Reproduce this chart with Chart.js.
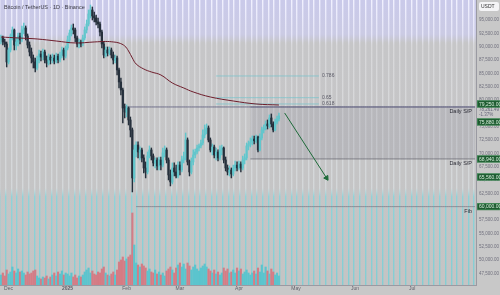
<!DOCTYPE html>
<html>
<head>
<meta charset="utf-8">
<script src="https://cdn.jsdelivr.net/npm/chart.js@4.4.1/dist/chart.umd.min.js"></script>
<style>
html, body { margin: 0; padding: 0; background: #c8c8c8; }
canvas { display: block; }
</style>
</head>
<body>
<canvas id="chart" width="500" height="295"></canvas>
<script>
// daily candles, Nov 27 2024 onwards
const opens = [91250,91630,90880,90500,87130,89380,92000,93130,90310,90880,92000,91250,93130,93500,92000,90310,89000,87880,87130,86000,
  87500,88630,88060,89000,87500,86940,88060,87500,87880,87310,88250,87500,88440,89380,88250,89750,91250,92560,93500,93130,
  91630,90500,90880,90500,91630,93130,94250,96130,96880,95750,95380,94630,94250,92750,90500,88440,89380,88810,89380,88440,
  87500,87880,85630,83380,81880,78500,77750,78500,76250,74380,65380,70630,71560,70250,70630,69130,67250,66500,69500,70630,
  69500,68190,68750,67630,68750,67810,70060,70630,68750,65940,64630,67250,66500,65750,67810,66880,68750,69130,72500,68380,
  66500,68380,69690,70250,71000,71380,71940,73440,74380,74750,72500,70630,71190,69690,70250,69130,70630,71000,68750,67250,
  66500,66880,66130,67250,67810,67250,68000,67250,68750,69130,71380,71750,72130,72690,72310,73060,70630,72880,74380,74750,
  75500,75130,76630,75500,74380,75880,76440];
const highs = [92190,92000,91440,90880,89750,92380,93690,93310,91630,92560,92560,93880,94440,93880,92380,90880,89750,88440,87880,88250,
  89380,89190,89560,89380,88250,88630,88440,88630,88440,88810,88630,89000,89940,89750,90130,92000,93130,94060,94250,93500,
  92000,91440,91250,92190,93690,95000,96880,97810,97440,96500,95940,95380,94630,93130,90880,89940,89940,89940,89750,89000,
  88440,88250,86000,84130,82250,79250,79060,78690,76810,74750,71560,72130,72130,71190,71000,69690,68380,70250,71380,71000,
  69880,69130,69130,69310,69310,71000,71380,71000,69130,66880,68190,68190,67810,68380,68380,69500,70250,73810,72880,68750,
  69130,70630,70810,71560,71750,72500,74380,75310,75500,75130,72880,71750,71560,71000,70630,71380,71560,71190,69310,67810,
  67630,67250,67810,68560,68380,68560,68380,69500,69880,71940,72310,72880,73250,73250,73440,73250,73630,74940,75310,76060,
  76250,77190,77380,75880,76440,77000,77560];
const lows = [90500,90310,89940,86190,86750,89000,91250,89380,89380,90130,90500,90880,92380,91250,89750,88250,86940,86000,85250,85630,
  86940,87310,87500,86940,86190,86560,86750,86940,86750,86940,86940,87130,87880,87500,87880,89380,90690,92000,92380,90880,
  89940,89750,89940,90130,91250,92560,93880,95380,95000,94630,94060,93500,92000,89750,87880,88060,88250,88440,87880,86750,
  86940,84690,82250,80940,75690,76630,76810,75310,73060,62750,64630,69310,69130,68750,68380,66310,65380,66130,69130,68750,
  67630,67250,66880,66880,66880,67440,69310,68190,65000,63880,64250,65750,65380,65380,65940,66500,68190,68750,67810,65750,
  66130,67810,69130,69880,70440,71000,71560,72880,73630,72130,70250,69690,69130,68750,68560,68750,69690,68190,66690,65940,
  65750,65380,65750,66690,66690,66880,66500,66880,68000,68750,70630,71190,71560,71750,71940,70250,70440,72500,73810,74380,
  74560,74750,74940,74000,74190,75500,76060];
const closes = [91630,90880,90500,87130,89380,92000,93130,90310,90880,92000,91250,93130,93500,92000,90310,89000,87880,87130,86000,87500,
  88630,88060,89000,87500,86940,88060,87500,87880,87310,88250,87500,88440,89380,88250,89750,91250,92560,93500,93130,91630,
  90500,90880,90500,91630,93130,94250,96130,96880,95750,95380,94630,94250,92750,90500,88440,89380,88810,89380,88440,87500,
  87880,85630,83380,81880,78500,77750,78500,76250,74380,65380,70630,71560,70250,70630,69130,67250,66500,69500,70630,69500,
  68190,68750,67630,68750,67810,70060,70630,68750,65940,64630,67250,66500,65750,67810,66880,68750,69130,72500,68380,66500,
  68380,69690,70250,71000,71380,71940,73440,74380,74750,72500,70630,71190,69690,70250,69130,70630,71000,68750,67250,66500,
  66880,66130,67250,67810,67250,68000,67250,68750,69130,71380,71750,72130,72690,72310,73060,70630,72880,74380,74750,75500,
  75130,76630,75500,74380,75880,76440,77000];
// volume, thousand BTC
const volumes = [10,12,9,15,11,13,18,14,12,16,13,14,12,10,13,11,12,14,15,9,
  7,6,8,7,9,6,8,10,12,9,13,11,14,10,12,11,9,12,8,10,
  7,9,8,10,13,15,17,12,14,11,10,13,12,16,18,12,10,9,11,13,
  10,15,23,25,28,24,26,28,30,72,40,22,20,18,21,19,17,14,16,13,
  12,15,11,13,10,12,9,14,16,18,15,12,17,20,22,18,21,16,22,19,
  15,18,20,16,14,17,19,21,18,16,14,12,15,11,13,10,12,17,14,16,
  12,13,15,12,17,14,16,11,13,15,12,10,12,14,11,17,13,20,12,18,
  14,11,16,13,10,12,9];
// moving average, read at a few days (day index -> price)
const maDays = [0,9,19,29,39,49,55,59,62,65,67,69,71,75,79,84,90,96,101,110,122,134,146];
const maValues = [91810,91630,91440,91060,90690,90880,90970,90880,90690,90130,89190,87880,86750,85810,85250,84690,83190,82250,81500,80560,79810,79250,79060];

const priceTicks = [95000,92500,90000,87500,85000,82500,80000,77500,75000,72500,70000,67500,65000,62500,60000,57500,55000,52500,50000,47500];
const monthTicks = {'2024-12-01':'Dec','2025-01-01':'2025','2025-02-01':'Feb','2025-03-01':'Mar','2025-04-01':'Apr','2025-05-01':'May','2025-06-01':'Jun','2025-07-01':'Jul'};

// drawn levels
const boxTop = 78690, boxBottom = 68940, fibLevel = 60000;
const fibValues = [84500, 80430, 79250];
const fibNames = ['0.786', '0.65', '0.618'];
const arrowFrom = 77560, arrowTo = 65380;
const tagValues = [79250, 75880, 68940, 65560, 60000];

const dayCount = 250;
const labels = [];
for (let i = 0; i < dayCount; i++) {
  const d = new Date(Date.UTC(2024, 10, 27 + i));
  labels.push(d.toISOString().slice(0, 10));
}

function segment(value, from, to) {
  return labels.map((_, i) => (i >= from && i <= to ? value : null));
}
function endpoints(from, a, to, b) {
  return labels.map((_, i) => (i === from ? a : i === to ? b : null));
}
const maData = labels.map((_, i) => {
  const k = maDays.indexOf(i);
  return k >= 0 ? maValues[k] : null;
});

const upColor = '#62c6cc', downColor = '#26303c';
const isUp = i => closes[i] >= opens[i];
const fmt = v => v.toLocaleString('en-US', { minimumFractionDigits: 2, maximumFractionDigits: 2 });
const FONT = 'Liberation Sans';

function stripeGradient(chart) {
  const a = chart.chartArea;
  if (!a) return 'rgba(225,225,235,0.8)';
  const g = chart.ctx.createLinearGradient(0, a.top, 0, a.bottom);
  g.addColorStop(0, 'rgba(242,242,255,0.95)');
  g.addColorStop(0.13, 'rgba(232,232,250,0.85)');
  g.addColorStop(0.16, 'rgba(220,220,222,0.8)');
  g.addColorStop(0.66, 'rgba(216,220,222,0.8)');
  g.addColorStop(0.69, 'rgba(140,212,218,0.95)');
  g.addColorStop(1, 'rgba(128,206,212,0.95)');
  return g;
}

const backdrop = {
  id: 'backdrop',
  beforeDraw(chart) {
    const { ctx, chartArea: a } = chart;
    ctx.save();
    ctx.fillStyle = '#c8c8c8';
    ctx.fillRect(0, 0, chart.width, chart.height);
    const g = ctx.createLinearGradient(0, a.top, 0, a.bottom);
    g.addColorStop(0, '#cacaea');
    g.addColorStop(0.12, '#cbcbe4');
    g.addColorStop(0.15, '#c6c6c8');
    g.addColorStop(1, '#c4c4c4');
    ctx.fillStyle = g;
    ctx.fillRect(a.left, a.top, a.right - a.left, a.bottom - a.top);
    ctx.restore();
  }
};

const overlay = {
  id: 'overlay',
  afterDraw(chart) {
    const { ctx, chartArea: a } = chart;
    const xs = chart.scales.x, ys = chart.scales.y;
    ctx.save();
    ctx.textBaseline = 'middle';

    ctx.fillStyle = '#3a3a44';
    ctx.font = '5.5px ' + FONT;
    ctx.textAlign = 'left';
    ctx.fillText('Bitcoin / TetherUS · 1D · Binance', 4, 7);

    // fib labels
    ctx.fillStyle = '#5a5a66';
    ctx.font = '5px ' + FONT;
    const fx = xs.getPixelForValue(167) + 3;
    fibValues.forEach((v, k) => ctx.fillText(fibNames[k], fx, ys.getPixelForValue(v)));

    // level names
    ctx.textAlign = 'right';
    ctx.fillStyle = '#2c2c36';
    ctx.font = '5.5px ' + FONT;
    ctx.fillText('Daily S/P', a.right - 4, ys.getPixelForValue(boxTop) + 5);
    ctx.fillText('Daily S/P', a.right - 4, ys.getPixelForValue(boxBottom) + 5);
    ctx.fillText('Fib', a.right - 4, ys.getPixelForValue(fibLevel) + 5);

    // small grey readouts on the axis
    ctx.textAlign = 'left';
    ctx.font = '4.5px ' + FONT;
    ctx.fillStyle = '#c8c8c8';
    ctx.fillRect(a.right + 1, ys.getPixelForValue(78400), 23, 9);
    ctx.fillStyle = '#66667a';
    ctx.fillText('78,261.49', a.right + 3, ys.getPixelForValue(78125));
    ctx.fillText('-1.37%', a.right + 3, ys.getPixelForValue(77150));

    // price tags
    ctx.font = '5px ' + FONT;
    tagValues.forEach(v => {
      const y = ys.getPixelForValue(v);
      ctx.fillStyle = '#1d5a30';
      ctx.fillRect(a.right + 1, y - 3.5, 23, 7);
      ctx.strokeStyle = '#4c9a62';
      ctx.lineWidth = 0.6;
      ctx.strokeRect(a.right + 1.3, y - 3.2, 22.4, 6.4);
      ctx.fillStyle = '#d8f0dc';
      ctx.fillText(fmt(v), a.right + 3, y + 0.3);
    });

    // currency box
    ctx.fillStyle = '#f4f4f6';
    ctx.beginPath();
    ctx.roundRect(a.right + 3, 2, 20, 9, 2);
    ctx.fill();
    ctx.fillStyle = '#333';
    ctx.fillText('USDT', a.right + 5, 6.8);
    ctx.restore();
  }
};

const ctx = document.getElementById('chart').getContext('2d');
new Chart(ctx, {
  type: 'bar',
  data: {
    labels: labels,
    datasets: [
      {
        type: 'line', label: 'arrow', data: endpoints(149, arrowFrom, 171, arrowTo),
        borderColor: '#1e6b3a', borderWidth: 1, spanGaps: true,
        pointStyle: 'triangle', rotation: 147,
        pointRadius: c => (c.dataIndex === 171 ? 2.8 : 0),
        pointBackgroundColor: '#1e6b3a', pointBorderColor: '#1e6b3a', order: 1
      },
      {
        type: 'line', label: 'MA', data: maData, borderColor: '#6e1e2c', borderWidth: 1,
        spanGaps: true, tension: 0.4, pointRadius: 0, order: 2
      },
      {
        label: 'bodies', data: opens.map((o, i) => [o, closes[i]]), grouped: false,
        backgroundColor: opens.map((_, i) => (isUp(i) ? upColor : downColor)),
        barThickness: 1.6, minBarLength: 1, order: 5
      },
      {
        label: 'wicks', data: lows.map((l, i) => [l, highs[i]]), grouped: false,
        backgroundColor: lows.map((_, i) => (isUp(i) ? upColor : downColor)),
        barThickness: 0.8, order: 6
      },
      {
        type: 'line', label: 'fib', data: segment(fibLevel, 71, dayCount - 1),
        borderColor: 'rgba(120,120,132,0.9)', borderWidth: 0.8, pointRadius: 0, order: 12
      },
      ...fibValues.map(v => ({
        type: 'line', label: 'fibline', data: segment(v, 113, 167),
        borderColor: 'rgba(120,196,204,0.95)', borderWidth: 0.8, pointRadius: 0, order: 12
      })),
      {
        type: 'line', label: 'top', data: segment(boxTop, 65, dayCount - 1),
        borderColor: 'rgba(96,96,128,0.95)', borderWidth: 0.9, pointRadius: 0, order: 13
      },
      {
        type: 'line', label: 'zoneTop', data: segment(boxTop, 131, dayCount - 1),
        borderColor: 'rgba(96,96,128,0.9)', borderWidth: 0.8, pointRadius: 0, order: 15
      },
      {
        type: 'line', label: 'zoneBottom', data: segment(boxBottom, 131, dayCount - 1),
        borderColor: 'rgba(100,100,110,0.9)', borderWidth: 0.8, pointRadius: 0,
        fill: '-1', backgroundColor: 'rgba(135,135,150,0.22)', order: 15
      },
      {
        label: 'volume', data: volumes, yAxisID: 'yv', grouped: false,
        backgroundColor: volumes.map((_, i) => (isUp(i) ? 'rgba(86,196,206,0.95)' : 'rgba(214,120,130,0.95)')),
        barThickness: 1.5, order: 20
      }
    ]
  },
  options: {
    responsive: false,
    devicePixelRatio: 1,
    animation: false,
    layout: { padding: 0 },
    plugins: { legend: { display: false }, tooltip: { enabled: false } },
    scales: {
      x: {
        grid: {
          color: c => (c.index % 3 === 0 ? stripeGradient(c.chart) : 'rgba(0,0,0,0)'),
          lineWidth: 1.4, drawTicks: false
        },
        border: { display: true, color: '#9a9aa2' },
        ticks: {
          autoSkip: false, maxRotation: 0, padding: 1, color: '#5e5e68',
          font: c => ({ family: FONT, size: 5, weight: c.tick && c.tick.label === '2025' ? 'bold' : 'normal' }),
          callback: (v, i) => monthTicks[labels[i]] || ''
        },
        afterFit: s => { s.height = 10; s.paddingLeft = 0; s.paddingRight = 0; }
      },
      y: {
        position: 'right', min: 45300, max: 98750,
        afterBuildTicks: s => { s.ticks = priceTicks.map(v => ({ value: v })); },
        grid: { display: false, drawTicks: false },
        border: { display: true, color: '#9a9aa2' },
        ticks: { padding: 3, color: '#70707e', font: { family: FONT, size: 4.5 }, callback: v => fmt(v) },
        afterFit: s => { s.width = 24; s.paddingTop = 0; s.paddingBottom = 0; }
      },
      yv: { display: false, min: 0, max: 285 }
    }
  },
  plugins: [backdrop, overlay]
});
</script>
</body>
</html>
